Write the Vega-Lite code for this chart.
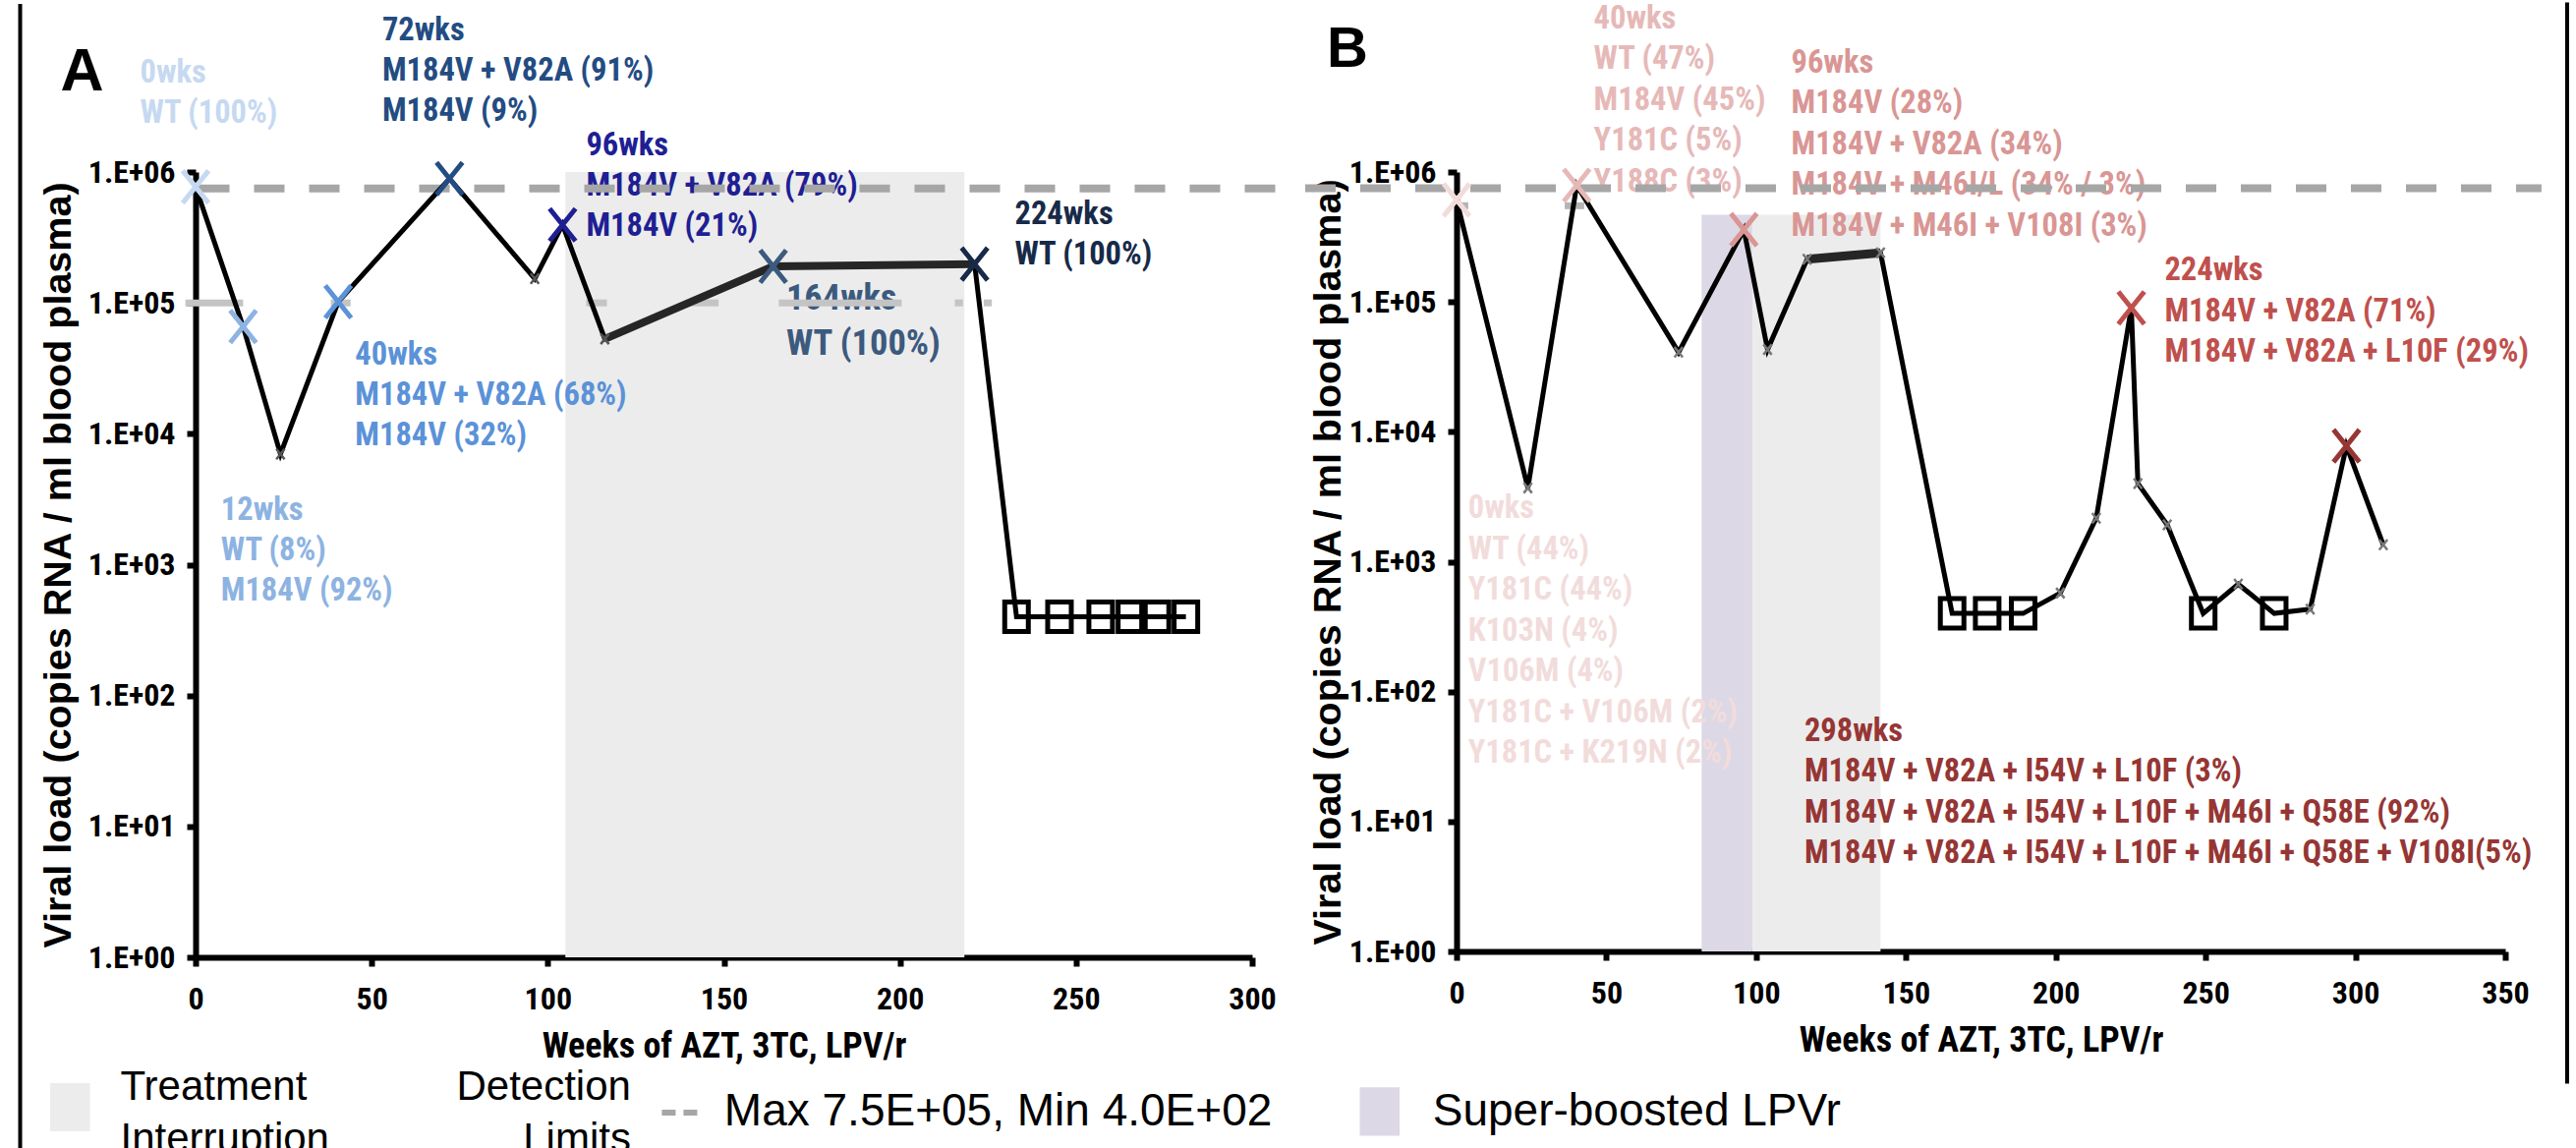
{
  "$schema": "https://vega.github.io/schema/vega-lite/v6.json",
  "background": "white",
  "padding": {"left": 18, "top": 0, "right": 0, "bottom": 0},
  "spacing": 0,
  "resolve": {"scale": {"color": "independent"}},
  "config": {
    "view": {"stroke": null},
    "axis": {
      "labelFont": "Roboto Condensed, Liberation Sans",
      "labelFontSize": 32,
      "labelFontWeight": "bold",
      "labelColor": "black",
      "tickColor": "black",
      "tickSize": 9,
      "tickWidth": 6,
      "domainColor": "black",
      "domainWidth": 6,
      "grid": false,
      "titleColor": "black",
      "zindex": 1,
      "labelOverlap": false,
      "labelFlush": false,
      "labelBound": false
    },
    "axisX": {
      "labelPadding": 18,
      "titleFont": "Roboto Condensed, Liberation Sans",
      "titleFontSize": 36,
      "titleFontWeight": "bold",
      "titlePadding": 15
    },
    "axisY": {
      "labelPadding": 12,
      "titleFont": "Liberation Sans",
      "titleFontSize": 39.5,
      "titleFontWeight": "bold"
    }
  },
  "datasets": {
    "A": [
      {"week": 0, "vl": 770000, "sample": "0wks"},
      {"week": 13.5, "vl": 66000, "sample": "12wks"},
      {"week": 24.1, "vl": 7000},
      {"week": 40.5, "vl": 102000, "sample": "40wks"},
      {"week": 72.1, "vl": 890000, "sample": "72wks"},
      {"week": 96.3, "vl": 153000},
      {"week": 104.2, "vl": 395000, "sample": "96wks"},
      {"week": 116.2, "vl": 53000},
      {"week": 164.0, "vl": 190000, "sample": "164wks"},
      {"week": 221.2, "vl": 198000, "sample": "224wks"},
      {"week": 233.1, "vl": 400, "bdl": true},
      {"week": 245.3, "vl": 400, "bdl": true},
      {"week": 257.0, "vl": 400, "bdl": true},
      {"week": 265.3, "vl": 400, "bdl": true},
      {"week": 273.0, "vl": 400, "bdl": true},
      {"week": 281.2, "vl": 400, "bdl": true}
    ],
    "B": [
      {"week": 0, "vl": 610000, "sample": "0wks"},
      {"week": 23.8, "vl": 3700},
      {"week": 40.1, "vl": 790000, "sample": "40wks"},
      {"week": 74.1, "vl": 41000},
      {"week": 95.9, "vl": 360000, "sample": "96wks"},
      {"week": 103.8, "vl": 43000},
      {"week": 117.0, "vl": 213000},
      {"week": 141.5, "vl": 239000},
      {"week": 165.4, "vl": 400, "bdl": true},
      {"week": 177.1, "vl": 400, "bdl": true},
      {"week": 189.1, "vl": 400, "bdl": true},
      {"week": 201.5, "vl": 574},
      {"week": 213.5, "vl": 2160},
      {"week": 225.2, "vl": 90000, "sample": "224wks"},
      {"week": 227.4, "vl": 4000},
      {"week": 237.2, "vl": 1920},
      {"week": 249.2, "vl": 400, "bdl": true},
      {"week": 260.9, "vl": 673},
      {"week": 272.9, "vl": 400, "bdl": true},
      {"week": 284.9, "vl": 432},
      {"week": 297.0, "vl": 7800, "sample": "298wks"},
      {"week": 309.3, "vl": 1350}
    ],
    "Anotes": [
      {"sample": "0wks", "lx": -15.77, "ly": 4820000, "note": "0wks\nWT (100%)"},
      {"sample": "12wks", "lx": 7.2, "ly": 2210, "note": "12wks\nWT (8%)\nM184V (92%)"},
      {"sample": "40wks", "lx": 45.3, "ly": 33600, "note": "40wks\nM184V + V82A (68%)\nM184V (32%)"},
      {"sample": "72wks", "lx": 53.0, "ly": 10100000, "note": "72wks\nM184V + V82A (91%)\nM184V (9%)"},
      {"sample": "96wks", "lx": 110.9, "ly": 1340000, "note": "96wks\nM184V + V82A (79%)\nM184V (21%)"},
      {"sample": "164wks", "lx": 167.7, "ly": 88300, "note": "164wks\nWT (100%)"},
      {"sample": "224wks", "lx": 232.6, "ly": 400000, "note": "224wks\nWT (100%)"}
    ],
    "Bnotes": [
      {"sample": "0wks", "lx": 3.84, "ly": 2160, "note": "0wks\nWT (44%)\nY181C (44%)\nK103N (4%)\nV106M (4%)\nY181C + V106M (2%)\nY181C + K219N (2%)"},
      {"sample": "40wks", "lx": 45.8, "ly": 12800000, "note": "40wks\nWT (47%)\nM184V (45%)\nY181C (5%)\nY188C (3%)"},
      {"sample": "96wks", "lx": 111.7, "ly": 5830000, "note": "96wks\nM184V (28%)\nM184V + V82A (34%)\nM184V + M46I/L (34% / 3%)\nM184V + M46I + V108I (3%)"},
      {"sample": "224wks", "lx": 236.3, "ly": 147000, "note": "224wks\nM184V + V82A (71%)\nM184V + V82A + L10F (29%)"},
      {"sample": "298wks", "lx": 116.1, "ly": 41.9, "note": "298wks\nM184V + V82A + I54V + L10F (3%)\nM184V + V82A + I54V + L10F + M46I + Q58E (92%)\nM184V + V82A + I54V + L10F + M46I + Q58E + V108I(5%)"}
    ]
  },
  "hconcat": [
    {
      "width": 1075,
      "height": 799,
      "layer": [
        {
          "data": {"values": [{"start": 105.0, "end": 218.3, "lo": 1, "hi": 1000000}]},
          "mark": {"type": "rect", "color": "#ececec"},
          "encoding": {
            "x": {"field": "start", "type": "quantitative", "scale": {"domain": [0, 300], "nice": false, "zero": false},
                  "axis": {"values": [0, 50, 100, 150, 200, 250, 300], "title": "Weeks of AZT, 3TC, LPV/r"}},
            "x2": {"field": "end"},
            "y": {"field": "hi", "type": "quantitative", "scale": {"type": "log", "domain": [1, 1000000], "nice": false},
                  "axis": {"values": [1, 10, 100, 1000, 10000, 100000, 1000000], "labelExpr": "'1.E+0' + round(log(datum.value)/LN10)",
                           "title": "Viral load (copies RNA / ml blood plasma)", "titlePadding": 10}},
            "y2": {"field": "lo"}
          }
        },
        {
          "data": {"name": "Anotes"},
          "transform": [{"filter": "datum.sample != '164wks'"}],
          "mark": {"type": "text", "align": "left", "baseline": "alphabetic", "font": "Roboto Condensed, Liberation Sans", "fontSize": 32.5, "fontWeight": "bold", "lineHeight": 41, "lineBreak": "\n"},
          "encoding": {
            "x": {"field": "lx", "type": "quantitative"},
            "y": {"field": "ly", "type": "quantitative"},
            "text": {"field": "note", "type": "nominal"},
            "color": {"field": "sample", "type": "nominal", "legend": null,
                      "scale": {"domain": ["0wks", "12wks", "40wks", "72wks", "96wks", "164wks", "224wks"],
                                "range": ["#c6d9f1", "#8db3e2", "#5b92d8", "#234c82", "#1f1f94", "#3c5a7e", "#172a48"]}}
          }
        },
        {
          "data": {"name": "Anotes"},
          "transform": [{"filter": "datum.sample == '164wks'"}],
          "mark": {"type": "text", "align": "left", "baseline": "alphabetic", "font": "Roboto Condensed, Liberation Sans", "fontSize": 36.5, "fontWeight": "bold", "lineHeight": 46, "lineBreak": "\n"},
          "encoding": {
            "x": {"field": "lx", "type": "quantitative"},
            "y": {"field": "ly", "type": "quantitative"},
            "text": {"field": "note", "type": "nominal"},
            "color": {"field": "sample", "type": "nominal", "legend": null}
          }
        },
        {
          "data": {"values": [{"from": 0, "to": 312.42, "level": 750000}]},
          "mark": {"type": "rule", "color": "#a6a6a6", "strokeWidth": 8, "strokeDash": [31, 25], "strokeDashOffset": -3.5},
          "encoding": {
            "x": {"field": "from", "type": "quantitative"},
            "x2": {"field": "to"},
            "y": {"field": "level", "type": "quantitative"}
          }
        },
        {
          "data": {"values": [
            {"from": -2.9, "to": 13.5, "level": 100000},
            {"from": 38.4, "to": 44.0, "level": 100000},
            {"from": 110.9, "to": 116.8, "level": 100000},
            {"from": 139.9, "to": 148.5, "level": 100000},
            {"from": 165.6, "to": 200.5, "level": 100000},
            {"from": 215.6, "to": 217.9, "level": 100000},
            {"from": 223.8, "to": 226.1, "level": 100000}
          ]},
          "mark": {"type": "rule", "color": "#c4c4c4", "strokeWidth": 7},
          "encoding": {
            "x": {"field": "from", "type": "quantitative"},
            "x2": {"field": "to"},
            "y": {"field": "level", "type": "quantitative"}
          }
        },
        {
          "data": {"name": "A"},
          "mark": {"type": "line", "color": "black", "strokeWidth": 5},
          "encoding": {
            "x": {"field": "week", "type": "quantitative"},
            "y": {"field": "vl", "type": "quantitative"}
          }
        },
        {
          "data": {"name": "A"},
          "transform": [{"filter": "datum.week >= 116 && datum.week <= 222"}],
          "mark": {"type": "line", "color": "#262626", "strokeWidth": 8},
          "encoding": {
            "x": {"field": "week", "type": "quantitative"},
            "y": {"field": "vl", "type": "quantitative"}
          }
        },
        {
          "data": {"name": "A"},
          "transform": [{"filter": "!datum.bdl"}],
          "mark": {"type": "point", "shape": "M-0.8,-1L0.8,1M0.8,-1L-0.8,1", "filled": false, "size": 110, "strokeWidth": 2.5, "color": "#555555", "opacity": 1},
          "encoding": {
            "x": {"field": "week", "type": "quantitative"},
            "y": {"field": "vl", "type": "quantitative"}
          }
        },
        {
          "data": {"name": "A"},
          "transform": [{"filter": "datum.bdl"}],
          "mark": {"type": "point", "shape": "M-0.8,-1H0.8V1H-0.8Z", "filled": false, "size": 900, "strokeWidth": 5, "color": "black", "opacity": 1},
          "encoding": {
            "x": {"field": "week", "type": "quantitative"},
            "y": {"field": "vl", "type": "quantitative"}
          }
        },
        {
          "data": {"name": "A"},
          "transform": [{"filter": "datum.sample"}],
          "mark": {"type": "point", "shape": "M-0.8,-1L0.8,1M0.8,-1L-0.8,1", "filled": false, "size": 1089, "strokeWidth": 5, "opacity": 1},
          "encoding": {
            "x": {"field": "week", "type": "quantitative"},
            "y": {"field": "vl", "type": "quantitative"},
            "color": {"field": "sample", "type": "nominal", "legend": null}
          }
        },
        {
          "data": {"values": [{"lx": -38.4, "ly": 4200000, "t": "A"}]},
          "mark": {"type": "text", "align": "left", "baseline": "alphabetic", "font": "Liberation Sans", "fontSize": 61, "fontWeight": "bold", "color": "black"},
          "encoding": {
            "x": {"field": "lx", "type": "quantitative"},
            "y": {"field": "ly", "type": "quantitative"},
            "text": {"field": "t", "type": "nominal"}
          }
        },
        {
          "data": {"values": [{"x1": -41.3, "x2": -30.0, "y1": 0.1094, "y2": 0.0469}]},
          "mark": {"type": "rect", "color": "#ececec"},
          "encoding": {
            "x": {"field": "x1", "type": "quantitative"},
            "x2": {"field": "x2"},
            "y": {"field": "y1", "type": "quantitative"},
            "y2": {"field": "y2"}
          }
        },
        {
          "data": {"values": [{"lx": -21.35, "ly": 0.0815, "t": "Treatment\nInterruption"}]},
          "mark": {"type": "text", "align": "left", "baseline": "alphabetic", "font": "Liberation Sans", "fontSize": 42, "lineHeight": 53, "lineBreak": "\n", "color": "black"},
          "encoding": {
            "x": {"field": "lx", "type": "quantitative"},
            "y": {"field": "ly", "type": "quantitative"},
            "text": {"field": "t", "type": "nominal"}
          }
        },
        {
          "data": {"values": [{"lx": 123.6, "ly": 0.0815, "t": "Detection\nLimits"}]},
          "mark": {"type": "text", "align": "right", "baseline": "alphabetic", "font": "Liberation Sans", "fontSize": 42, "lineHeight": 53, "lineBreak": "\n", "color": "black"},
          "encoding": {
            "x": {"field": "lx", "type": "quantitative"},
            "y": {"field": "ly", "type": "quantitative"},
            "text": {"field": "t", "type": "nominal"}
          }
        },
        {
          "data": {"values": [{"from": 132.4, "to": 142.5, "level": 0.0652}]},
          "mark": {"type": "rule", "color": "#a6a6a6", "strokeWidth": 6, "strokeDash": [14, 8]},
          "encoding": {
            "x": {"field": "from", "type": "quantitative"},
            "x2": {"field": "to"},
            "y": {"field": "level", "type": "quantitative"}
          }
        },
        {
          "data": {"values": [{"lx": 150.1, "ly": 0.052, "t": "Max 7.5E+05, Min 4.0E+02"}]},
          "mark": {"type": "text", "align": "left", "baseline": "alphabetic", "font": "Liberation Sans", "fontSize": 46, "color": "black"},
          "encoding": {
            "x": {"field": "lx", "type": "quantitative"},
            "y": {"field": "ly", "type": "quantitative"},
            "text": {"field": "t", "type": "nominal"}
          }
        },
        {
          "data": {"values": [{"x": -49.81, "top": 19240000, "bottom": 0.0299}]},
          "mark": {"type": "rule", "color": "black", "strokeWidth": 4},
          "encoding": {
            "x": {"field": "x", "type": "quantitative"},
            "y": {"field": "top", "type": "quantitative"},
            "y2": {"field": "bottom"}
          }
        }
      ]
    },
    {
      "width": 1067,
      "height": 793,
      "layer": [
        {
          "data": {"values": [{"start": 98.7, "end": 141.5, "lo": 1, "hi": 469000}]},
          "mark": {"type": "rect", "color": "#ececec"},
          "encoding": {
            "x": {"field": "start", "type": "quantitative", "scale": {"domain": [0, 350], "nice": false, "zero": false},
                  "axis": {"values": [0, 50, 100, 150, 200, 250, 300, 350], "title": "Weeks of AZT, 3TC, LPV/r"}},
            "x2": {"field": "end"},
            "y": {"field": "hi", "type": "quantitative", "scale": {"type": "log", "domain": [1, 1000000], "nice": false},
                  "axis": {"values": [1, 10, 100, 1000, 10000, 100000, 1000000], "labelExpr": "'1.E+0' + round(log(datum.value)/LN10)",
                           "title": "Viral load (copies RNA / ml blood plasma)", "titlePadding": 1}},
            "y2": {"field": "lo"}
          }
        },
        {
          "data": {"values": [{"start": 81.8, "end": 98.7, "lo": 1, "hi": 469000}]},
          "mark": {"type": "rect", "color": "#ddd8e6"},
          "encoding": {
            "x": {"field": "start", "type": "quantitative"},
            "x2": {"field": "end"},
            "y": {"field": "hi", "type": "quantitative"},
            "y2": {"field": "lo"}
          }
        },
        {
          "data": {"name": "Bnotes"},
          "mark": {"type": "text", "align": "left", "baseline": "alphabetic", "font": "Roboto Condensed, Liberation Sans", "fontSize": 32.5, "fontWeight": "bold", "lineHeight": 41.5, "lineBreak": "\n"},
          "encoding": {
            "x": {"field": "lx", "type": "quantitative"},
            "y": {"field": "ly", "type": "quantitative"},
            "text": {"field": "note", "type": "nominal"},
            "color": {"field": "sample", "type": "nominal", "legend": null,
                      "scale": {"domain": ["0wks", "40wks", "96wks", "224wks", "298wks"],
                                "range": ["#f2dcdb", "#e6b9b8", "#d99694", "#c0504d", "#963634"]}}
          }
        },
        {
          "data": {"values": [{"from": -50.52, "to": 362.1, "level": 750000}]},
          "mark": {"type": "rule", "color": "#a6a6a6", "strokeWidth": 8, "strokeDash": [31, 25]},
          "encoding": {
            "x": {"field": "from", "type": "quantitative"},
            "x2": {"field": "to"},
            "y": {"field": "level", "type": "quantitative"}
          }
        },
        {
          "data": {"values": [{"from": 0.2, "to": 3.9, "level": 550000}, {"from": 36.1, "to": 42.6, "level": 550000}]},
          "mark": {"type": "rule", "color": "#b4b4b4", "strokeWidth": 7},
          "encoding": {
            "x": {"field": "from", "type": "quantitative"},
            "x2": {"field": "to"},
            "y": {"field": "level", "type": "quantitative"}
          }
        },
        {
          "data": {"name": "B"},
          "mark": {"type": "line", "color": "black", "strokeWidth": 5},
          "encoding": {
            "x": {"field": "week", "type": "quantitative"},
            "y": {"field": "vl", "type": "quantitative"}
          }
        },
        {
          "data": {"name": "B"},
          "transform": [{"filter": "datum.week >= 117 && datum.week <= 142"}],
          "mark": {"type": "line", "color": "#262626", "strokeWidth": 9},
          "encoding": {
            "x": {"field": "week", "type": "quantitative"},
            "y": {"field": "vl", "type": "quantitative"}
          }
        },
        {
          "data": {"name": "B"},
          "transform": [{"filter": "!datum.bdl"}],
          "mark": {"type": "point", "shape": "M-0.8,-1L0.8,1M0.8,-1L-0.8,1", "filled": false, "size": 110, "strokeWidth": 2.5, "color": "#777777", "opacity": 1},
          "encoding": {
            "x": {"field": "week", "type": "quantitative"},
            "y": {"field": "vl", "type": "quantitative"}
          }
        },
        {
          "data": {"name": "B"},
          "transform": [{"filter": "datum.bdl"}],
          "mark": {"type": "point", "shape": "M-0.8,-1H0.8V1H-0.8Z", "filled": false, "size": 900, "strokeWidth": 5, "color": "black", "opacity": 1},
          "encoding": {
            "x": {"field": "week", "type": "quantitative"},
            "y": {"field": "vl", "type": "quantitative"}
          }
        },
        {
          "data": {"name": "B"},
          "transform": [{"filter": "datum.sample"}],
          "mark": {"type": "point", "shape": "M-0.8,-1L0.8,1M0.8,-1L-0.8,1", "filled": false, "size": 1089, "strokeWidth": 5, "opacity": 1},
          "encoding": {
            "x": {"field": "week", "type": "quantitative"},
            "y": {"field": "vl", "type": "quantitative"},
            "color": {"field": "sample", "type": "nominal", "legend": null}
          }
        },
        {
          "data": {"values": [{"lx": -43.3, "ly": 6400000, "t": "B"}]},
          "mark": {"type": "text", "align": "left", "baseline": "alphabetic", "font": "Liberation Sans", "fontSize": 58, "fontWeight": "bold", "color": "black"},
          "encoding": {
            "x": {"field": "lx", "type": "quantitative"},
            "y": {"field": "ly", "type": "quantitative"},
            "text": {"field": "t", "type": "nominal"}
          }
        },
        {
          "data": {"values": [{"x1": -32.3, "x2": -19.0, "y1": 0.09, "y2": 0.0381}]},
          "mark": {"type": "rect", "color": "#ddd8e6"},
          "encoding": {
            "x": {"field": "x1", "type": "quantitative"},
            "x2": {"field": "x2"},
            "y": {"field": "y1", "type": "quantitative"},
            "y2": {"field": "y2"}
          }
        },
        {
          "data": {"values": [{"lx": -7.97, "ly": 0.0454, "t": "Super-boosted LPVr"}]},
          "mark": {"type": "text", "align": "left", "baseline": "alphabetic", "font": "Liberation Sans", "fontSize": 46, "color": "black"},
          "encoding": {
            "x": {"field": "lx", "type": "quantitative"},
            "y": {"field": "ly", "type": "quantitative"},
            "text": {"field": "t", "type": "nominal"}
          }
        },
        {
          "data": {"values": [{"x": 370.66, "top": 20200000, "bottom": 0.0961}]},
          "mark": {"type": "rule", "color": "black", "strokeWidth": 4},
          "encoding": {
            "x": {"field": "x", "type": "quantitative"},
            "y": {"field": "top", "type": "quantitative"},
            "y2": {"field": "bottom"}
          }
        }
      ]
    }
  ]
}
